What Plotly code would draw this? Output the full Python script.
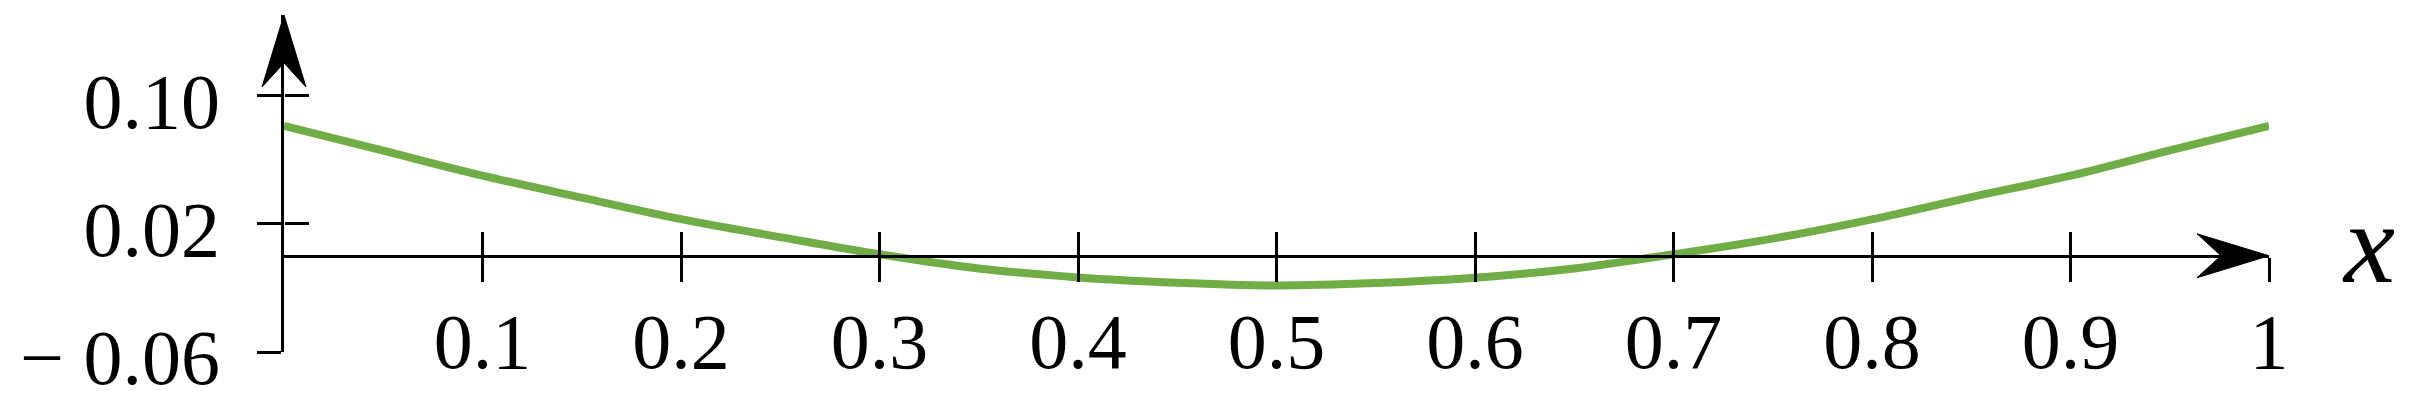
import plotly.graph_objects as go

# ---- data ----
x_vals = [0.0, 0.05, 0.10, 0.15, 0.20, 0.25, 0.30, 0.35, 0.40, 0.45, 0.50,
          0.55, 0.60, 0.65, 0.70, 0.75, 0.80, 0.85, 0.90, 0.95, 1.0]
y_vals = [0.081, 0.0655, 0.0500, 0.0362, 0.0228, 0.0116, 0.0009, -0.0079, -0.0135, -0.0168, -0.0185,
          -0.0170, -0.0137, -0.0079, 0.0009, 0.0107, 0.0227, 0.0366, 0.0499, 0.0657, 0.081]

x_tick_vals = [0.1, 0.2, 0.3, 0.4, 0.5, 0.6, 0.7, 0.8, 0.9, 1.0]
x_tick_text = ["0.1", "0.2", "0.3", "0.4", "0.5", "0.6", "0.7", "0.8", "0.9", "1"]
y_tick_vals = [0.10, 0.02, -0.06]
y_tick_text = ["0.10", "0.02", "\u2212 0.06"]
x_label = "x"

Y_MIN, Y_MAX = -0.06, 0.1501
X_MIN, X_MAX = 0.0, 1.0
x_axis_pos = (0 - Y_MIN) / (Y_MAX - Y_MIN)

FONT = "Liberation Serif, Times New Roman, serif"
GREEN = "#70AD47"

fig = go.Figure()
fig.add_trace(go.Scatter(
    x=x_vals, y=y_vals, mode="lines",
    line=dict(color=GREEN, width=8, shape="spline", smoothing=1.0),
    hoverinfo="skip", showlegend=False,
))
# invisible twin trace so the overlay axes (inner half of crossing ticks + labels) get drawn
fig.add_trace(go.Scatter(
    x=x_vals, y=y_vals, mode="lines", xaxis="x2", yaxis="y2",
    line=dict(color="rgba(0,0,0,0)", width=1),
    hoverinfo="skip", showlegend=False,
))

common_tick = dict(tickcolor="black", tickwidth=3, ticklen=24)
tick_font = dict(family=FONT, size=78, color="black")

fig.update_layout(
    template="none",
    width=2410, height=408,
    margin=dict(l=284, r=141, t=15, b=56, pad=0, autoexpand=False),
    paper_bgcolor="white", plot_bgcolor="white",
    font=dict(family=FONT, size=78, color="black"),
    hovermode=False,
    xaxis=dict(
        range=[X_MIN, X_MAX], anchor="free", position=x_axis_pos, automargin=False,
        showgrid=False, zeroline=False,
        showline=True, linecolor="black", linewidth=3,
        ticks="outside", tickvals=x_tick_vals, showticklabels=False,
        **common_tick,
    ),
    yaxis=dict(
        range=[Y_MIN, Y_MAX], anchor="x", automargin=False,
        showgrid=False, zeroline=False,
        showline=True, linecolor="black", linewidth=3,
        ticks="outside", tickvals=y_tick_vals, showticklabels=False,
        **common_tick,
    ),
    xaxis2=dict(
        overlaying="x", matches="x", anchor="free", position=x_axis_pos, automargin=False,
        side="bottom",
        showgrid=False, zeroline=False, showline=False,
        ticks="inside", tickvals=x_tick_vals, ticktext=x_tick_text,
        ticklabelstandoff=33, tickfont=tick_font,
        **common_tick,
    ),
    yaxis2=dict(
        overlaying="y", matches="y", anchor="free", position=0, automargin=False,
        side="left",
        showgrid=False, zeroline=False, showline=False,
        ticks="inside", tickvals=y_tick_vals, ticktext=y_tick_text,
        ticklabelstandoff=64, ticklabelshift=5, tickfont=tick_font,
        **common_tick,
    ),
    shapes=[
        # arrow head of the x axis (pixel-sized, anchored at the axis end)
        dict(type="path", xref="paper", yref="paper", xsizemode="pixel", ysizemode="pixel",
             xanchor=1, yanchor=x_axis_pos,
             path="M0,0 L-72,22 L-48,0 L-72,-22 Z",
             fillcolor="black", line=dict(color="black", width=1)),
        # arrow head of the y axis
        dict(type="path", xref="paper", yref="paper", xsizemode="pixel", ysizemode="pixel",
             xanchor=0, yanchor=1,
             path="M0,0 L-22,-72 L0,-48 L22,-72 Z",
             fillcolor="black", line=dict(color="black", width=1)),
    ],
    annotations=[
        dict(text=x_label, xref="x", yref="y", x=X_MAX, y=0,
             xanchor="center", yanchor="middle", xshift=99, yshift=12,
             showarrow=False,
             font=dict(family=FONT, size=115, color="black", style="italic")),
    ],
)

fig.write_html(
    "out.html",
    config={"displayModeBar": False, "staticPlot": True},
    post_script="document.body.style.margin='0';document.body.style.overflow='hidden';",
)
